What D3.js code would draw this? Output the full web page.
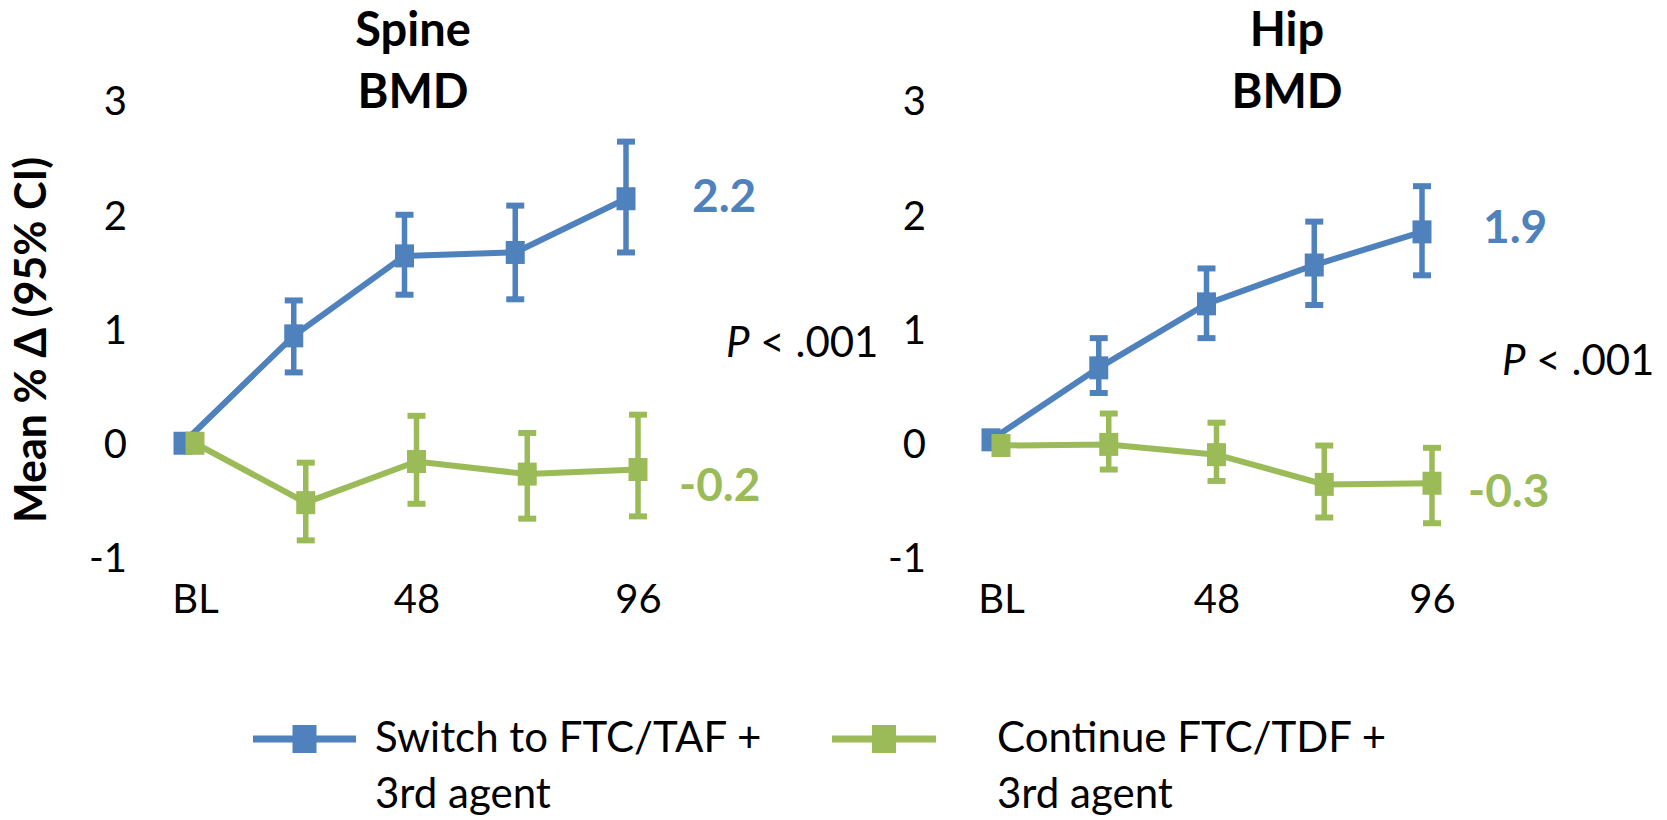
<!DOCTYPE html>
<html>
<head>
<meta charset="utf-8">
<script src="https://cdn.jsdelivr.net/npm/d3@7/dist/d3.min.js"></script>
<style>
  html, body { margin: 0; padding: 0; background: #ffffff; }
  svg { display: block; }
  text { font-family: Lato, "Open Sans", sans-serif; }
</style>
</head>
<body>
<svg id="chart" width="1667" height="820"></svg>
<script>
// ---------------- DATA ----------------
const weeks = [0, 24, 48, 72, 96];
const xTickWeeks = [0, 48, 96];
const xTickLabels = ["BL", "48", "96"];
const yTicks = [-1, 0, 1, 2, 3];
const yTickLabels = ["-1", "0", "1", "2", "3"];

const seriesNames = ["Switch to FTC/TAF +\n3rd agent", "Continue FTC/TDF +\n3rd agent"];

// Spine BMD
const spineTafMean = [0.00, 0.94, 1.64, 1.67, 2.14];
const spineTafLow  = [0.00, 0.62, 1.30, 1.26, 1.67];
const spineTafHigh = [0.00, 1.25, 2.00, 2.08, 2.64];
const spineTdfMean = [0.00, -0.52, -0.16, -0.27, -0.23];
const spineTdfLow  = [0.00, -0.85, -0.53, -0.66, -0.64];
const spineTdfHigh = [0.00, -0.17, 0.24, 0.09, 0.25];
const spineEndLabels = ["2.2", "-0.2"];

// Hip BMD
const hipTafMean = [0.03, 0.66, 1.22, 1.56, 1.85];
const hipTafLow  = [0.03, 0.44, 0.92, 1.21, 1.47];
const hipTafHigh = [0.03, 0.92, 1.53, 1.94, 2.25];
const hipTdfMean = [-0.02, -0.01, -0.10, -0.36, -0.35];
const hipTdfLow  = [-0.02, -0.23, -0.33, -0.65, -0.70];
const hipTdfHigh = [-0.02, 0.26, 0.18, -0.02, -0.04];
const hipEndLabels = ["1.9", "-0.3"];

const pValueText = ["P", " < .001"];
const yAxisTitle = "Mean % Δ (95% CI)";

// ---------------- STYLE / LAYOUT ----------------
const COLORS = ["#4F81BD", "#9BBB59"];
const svg = d3.select("#chart");

const y = d3.scaleLinear().domain([-1, 3]).range([557.5, 100.5]);

const panels = [
  {
    title: ["Spine", "BMD"], titleX: 413,
    xRange: [195, 638], shift: [-12, 0], axisX: 127,
    series: [
      {mean: spineTafMean, lo: spineTafLow, hi: spineTafHigh},
      {mean: spineTdfMean, lo: spineTdfLow, hi: spineTdfHigh}
    ],
    endLabels: spineEndLabels,
    endLabelPos: [[692, 212], [679, 501]],
    pPos: [726, 357]
  },
  {
    title: ["Hip", "BMD"], titleX: 1287,
    xRange: [1001, 1432], shift: [-10, 0], axisX: 926,
    series: [
      {mean: hipTafMean, lo: hipTafLow, hi: hipTafHigh},
      {mean: hipTdfMean, lo: hipTdfLow, hi: hipTdfHigh}
    ],
    endLabels: hipEndLabels,
    endLabelPos: [[1483, 243], [1468, 507]],
    pPos: [1502, 375]
  }
];

const MW = 19, MH = 23, CAP = 18;

panels.forEach(p => {
  const x = d3.scaleLinear().domain([0, 96]).range(p.xRange);
  const g = svg.append("g");

  // title
  g.append("text").attr("x", p.titleX).attr("y", 46)
    .attr("text-anchor", "middle").attr("font-weight", 700).attr("font-size", 47)
    .attr("fill", "#000").text(p.title[0]);
  g.append("text").attr("x", p.titleX).attr("y", 108)
    .attr("text-anchor", "middle").attr("font-weight", 700).attr("font-size", 47)
    .attr("fill", "#000").text(p.title[1]);

  // y axis
  const ya = g.append("g").attr("transform", `translate(${p.axisX},0)`)
    .call(d3.axisLeft(y).tickValues(yTicks).tickSize(0).tickPadding(0)
      .tickFormat((d, i) => yTickLabels[i]));
  ya.select(".domain").remove();
  ya.selectAll("text").attr("font-size", 40).attr("font-family", "Lato").attr("fill", "#000").attr("dy", "0.36em");

  // x axis
  const xa = g.append("g").attr("transform", `translate(0,584)`)
    .call(d3.axisBottom(x).tickValues(xTickWeeks).tickSize(0).tickPadding(0)
      .tickFormat((d, i) => xTickLabels[i]));
  xa.select(".domain").remove();
  xa.selectAll("text").attr("font-size", 40).attr("font-family", "Lato").attr("fill", "#000").attr("dy", "0.72em");

  // series
  p.series.forEach((s, si) => {
    const pts = weeks.map((w, i) => ({x: x(w) + p.shift[si], m: s.mean[i], lo: s.lo[i], hi: s.hi[i]}));
    const color = COLORS[si];
    g.append("path").datum(pts)
      .attr("d", d3.line().x(d => d.x).y(d => y(d.m)))
      .attr("fill", "none").attr("stroke", color).attr("stroke-width", 6);

    const eb = g.append("g").selectAll("g").data(pts.filter(d => d.hi !== d.lo)).join("g");
    eb.append("line").attr("x1", d => d.x).attr("x2", d => d.x)
      .attr("y1", d => y(d.lo)).attr("y2", d => y(d.hi))
      .attr("stroke", color).attr("stroke-width", 5.5);
    eb.append("line").attr("x1", d => d.x - CAP / 2).attr("x2", d => d.x + CAP / 2)
      .attr("y1", d => y(d.hi)).attr("y2", d => y(d.hi))
      .attr("stroke", color).attr("stroke-width", 6);
    eb.append("line").attr("x1", d => d.x - CAP / 2).attr("x2", d => d.x + CAP / 2)
      .attr("y1", d => y(d.lo)).attr("y2", d => y(d.lo))
      .attr("stroke", color).attr("stroke-width", 6);

    g.append("g").selectAll("rect").data(pts).join("rect")
      .attr("x", d => d.x - MW / 2).attr("y", d => y(d.m) - MH / 2)
      .attr("width", MW).attr("height", MH).attr("fill", color);

    g.append("text").attr("x", p.endLabelPos[si][0]).attr("y", p.endLabelPos[si][1])
      .attr("font-weight", 700).attr("font-size", 46).attr("fill", color)
      .text(p.endLabels[si]);
  });

  // p value
  const pt = g.append("text").attr("x", p.pPos[0]).attr("y", p.pPos[1])
    .attr("font-size", 42).attr("fill", "#000");
  pt.append("tspan").attr("font-style", "italic").text(pValueText[0]);
  pt.append("tspan").text(pValueText[1]);
});

// y-axis title
svg.append("text")
  .attr("transform", "translate(46,340) rotate(-90)")
  .attr("text-anchor", "middle").attr("font-weight", 700).attr("font-size", 43)
  .attr("fill", "#000").text(yAxisTitle);

// legend
const legend = [
  {lineX: [253, 356], textX: 375},
  {lineX: [832, 936], textX: 997}
];
legend.forEach((l, i) => {
  const lg = svg.append("g");
  lg.append("line").attr("x1", l.lineX[0]).attr("x2", l.lineX[1])
    .attr("y1", 739).attr("y2", 739).attr("stroke", COLORS[i]).attr("stroke-width", 7);
  const cx = (l.lineX[0] + l.lineX[1]) / 2;
  lg.append("rect").attr("x", cx - 12).attr("y", 739 - 14).attr("width", 24).attr("height", 28)
    .attr("fill", COLORS[i]);
  const lines = seriesNames[i].split("\n");
  const t = lg.append("text").attr("x", l.textX).attr("y", 752)
    .attr("font-size", 42).attr("fill", "#000");
  lines.forEach((ln, k) => {
    t.append("tspan").attr("x", l.textX).attr("dy", k === 0 ? 0 : 56).text(ln);
  });
});
</script>
</body>
</html>
